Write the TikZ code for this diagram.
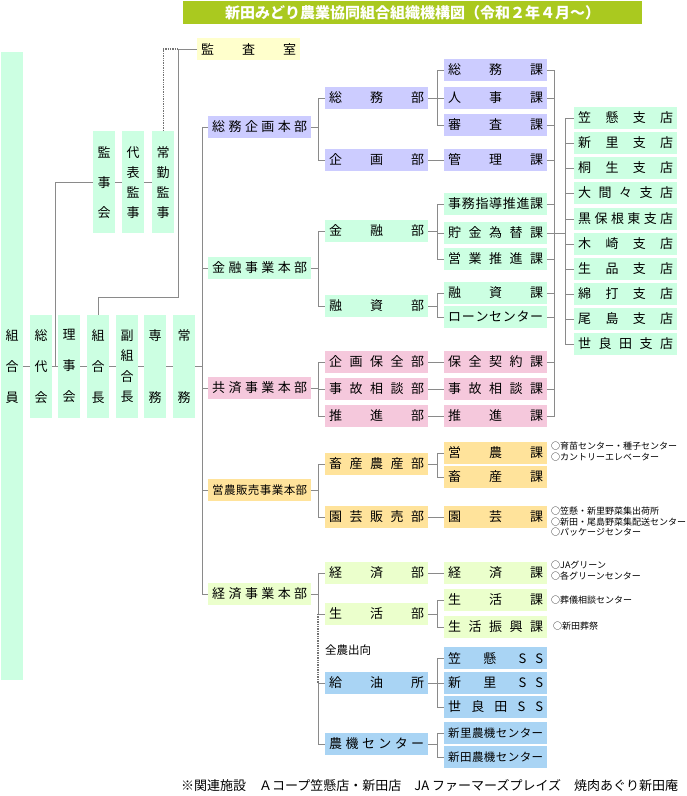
\documentclass[tikz,border=0pt]{standalone}
\usepackage{fontspec}
\setmainfont{Noto Sans CJK JP}
\usepackage{tikz}
\usetikzlibrary{calc}

\definecolor{mint}{HTML}{CCFFE2}
\definecolor{lav}{HTML}{CCCCFF}
\definecolor{pinkish}{HTML}{F5C8DC}
\definecolor{gold}{HTML}{FFE39B}
\definecolor{lime}{HTML}{EBFFCC}
\definecolor{sky}{HTML}{A9D4F4}
\definecolor{cream}{HTML}{FFFFCC}
\definecolor{titlegreen}{HTML}{AAC91F}
\definecolor{linegray}{HTML}{8A8A8A}

\newcommand{\spr}[1]{\makebox[95pt][s]{\spaceskip=0pt plus 1fil\relax #1}}

\tikzset{
  unit/.style={fill=#1, minimum width=103pt, minimum height=21.5pt, inner sep=0pt, anchor=north west, font=\fontsize{13}{13}\selectfont},
  tall/.style={fill=mint, minimum width=22pt, inner sep=0pt, anchor=north west, align=center, font=\fontsize{13}{#1}\selectfont},
  small/.style={font=\fontsize{11.5}{11.5}\selectfont},
  link/.style={draw=linegray, line width=0.9pt},
  dots/.style={draw=black!55, densely dotted, line width=1.4pt},
  trunk/.style={draw=black!28, line width=1.7pt},
  fork/.style={link, to path={-- ++(#1,0) |- (\tikztotarget)}},
  fork/.default=7,
  aside/.style={anchor=north west, inner sep=0pt, align=left, font=\fontsize{9}{10.8}\selectfont}
}

\begin{document}
\begin{tikzpicture}[x=1pt, y=-1pt]
\useasboundingbox (0,0) rectangle (687,796);

% title
\node[fill=titlegreen, minimum width=459pt, minimum height=23pt, inner sep=0pt, anchor=north west, text=white, font=\bfseries\fontsize{15}{15}\selectfont] (title) at (183,1) {新田みどり農業協同組合組織機構図（令和２年４月～）};

% members, board, officers
\node[tall=31, minimum height=628pt] (kumiai) at (1,52) {組\\合\\員};
\node[tall=31, minimum height=103pt] (sodai) at (30,314.5) {総\\代\\会};
\node[tall=31, minimum height=103pt] (riji) at (58,314.5) {理\\事\\会};
\node[tall=31, minimum height=103pt] (kumicho) at (87,314.5) {組\\合\\長};
\node[tall=20.5, minimum height=103pt] (fuku) at (116,314.5) {副\\組\\合\\長};
\node[tall=62, minimum height=103pt] (senmu) at (144,314.5) {専\\務};
\node[tall=62, minimum height=103pt] (jomu) at (173,314.5) {常\\務};

\node[tall=30, minimum height=102pt] (kanjikai) at (93,131) {監\\事\\会};
\node[tall=20, minimum height=102pt] (daihyo) at (122,131) {代\\表\\監\\事};
\node[tall=20, minimum height=102pt] (jokin) at (152,131) {常\\勤\\監\\事};
\node[unit=cream] (kansa) at (197,38) {\spr{監 査 室}};

% head offices
\node[unit=lav] (hqSomu) at (208,116) {\spr{総 務 企 画 本 部}};
\node[unit=mint] (hqKinyu) at (208,257) {\spr{金 融 事 業 本 部}};
\node[unit=pinkish] (hqKyosai) at (208,377) {\spr{共 済 事 業 本 部}};
\node[unit=gold, small] (hqEino) at (208,479) {\spr{営 農 販 売 事 業 本 部}};
\node[unit=lime] (hqKeizai) at (208,583) {\spr{経 済 事 業 本 部}};

% departments
\node[unit=lav] (bSomu) at (325,87) {\spr{総 務 部}};
\node[unit=lav] (bKikaku) at (325,149) {\spr{企 画 部}};
\node[unit=mint] (bKinyu) at (325,220) {\spr{金 融 部}};
\node[unit=mint] (bYushi) at (325,295) {\spr{融 資 部}};
\node[unit=pinkish] (bHozen) at (325,351) {\spr{企 画 保 全 部}};
\node[unit=pinkish] (bJiko) at (325,378) {\spr{事 故 相 談 部}};
\node[unit=pinkish] (bSuishin) at (325,405) {\spr{推 進 部}};
\node[unit=gold] (bChikusan) at (325,453) {\spr{畜 産 農 産 部}};
\node[unit=gold] (bEngei) at (325,506) {\spr{園 芸 販 売 部}};
\node[unit=lime] (bKeizai) at (325,562) {\spr{経 済 部}};
\node[unit=lime] (bSeikatsu) at (325,603) {\spr{生 活 部}};
\node[unit=sky] (bKyuyu) at (325,672) {\spr{給 油 所}};
\node[unit=sky] (bNoki) at (325,733) {\spr{農 機 セ ン タ ー}};

% sections
\node[unit=lav] (kSomu) at (444,59) {\spr{総 務 課}};
\node[unit=lav] (kJinji) at (444,87) {\spr{人 事 課}};
\node[unit=lav] (kShinsa) at (444,114) {\spr{審 査 課}};
\node[unit=lav] (kKanri) at (444,149) {\spr{管 理 課}};
\node[unit=mint] (kJimu) at (444,193) {\spr{事 務 指 導 推 進 課}};
\node[unit=mint] (kChokin) at (444,222) {\spr{貯 金 為 替 課}};
\node[unit=mint] (kEigyo) at (444,248) {\spr{営 業 推 進 課}};
\node[unit=mint] (kYushi) at (444,282) {\spr{融 資 課}};
\node[unit=mint] (kLoan) at (444,306) {\spr{ロ ー ン セ ン タ ー}};
\node[unit=pinkish] (kHozen) at (444,351) {\spr{保 全 契 約 課}};
\node[unit=pinkish] (kJiko) at (444,378) {\spr{事 故 相 談 課}};
\node[unit=pinkish] (kSuishin) at (444,405) {\spr{推 進 課}};
\node[unit=gold] (kEino) at (444,442) {\spr{営 農 課}};
\node[unit=gold] (kChikusan) at (444,466) {\spr{畜 産 課}};
\node[unit=gold] (kEngei) at (444,506) {\spr{園 芸 課}};
\node[unit=lime] (kKeizai) at (444,562) {\spr{経 済 課}};
\node[unit=lime] (kSeikatsu) at (444,589) {\spr{生 活 課}};
\node[unit=lime] (kShinko) at (444,616) {\spr{生 活 振 興 課}};
\node[unit=sky] (ssKasakake) at (444,647) {\spr{笠 懸 S\hspace{9pt}S}};
\node[unit=sky] (ssNissato) at (444,672) {\spr{新 里 S\hspace{9pt}S}};
\node[unit=sky] (ssSerada) at (444,696) {\spr{世 良 田 S S}};
\node[unit=sky, small] (nkNissato) at (444,722) {\spr{新 里 農 機 セ ン タ ー}};
\node[unit=sky, small] (nkNitta) at (444,746) {\spr{新 田 農 機 セ ン タ ー}};

% branches
\node[unit=mint] (stKasakake) at (574,107) {\spr{笠 懸 支 店}};
\node[unit=mint] (stNissato) at (574,132) {\spr{新 里 支 店}};
\node[unit=mint] (stKiryu) at (574,157) {\spr{桐 生 支 店}};
\node[unit=mint] (stOmama) at (574,182) {\spr{大 間 々 支 店}};
\node[unit=mint] (stKurohone) at (574,208) {\spr{黒 保 根 東 支 店}};
\node[unit=mint] (stKizaki) at (574,233) {\spr{木 崎 支 店}};
\node[unit=mint] (stIkushina) at (574,258) {\spr{生 品 支 店}};
\node[unit=mint] (stWatauchi) at (574,283) {\spr{綿 打 支 店}};
\node[unit=mint] (stOjima) at (574,308) {\spr{尾 島 支 店}};
\node[unit=mint] (stSerada) at (574,333) {\spr{世 良 田 支 店}};

% notes
\node[aside] (nEino) at (551,441.5) {○育苗センター・種子センター\\○カントリーエレベーター};
\node[aside] (nEngei) at (551,506.5) {○笠懸・新里野菜集出荷所\\○新田・尾島野菜集配送センター\\○パッケージセンター};
\node[aside] (nKeizai) at (551,561) {○JAグリーン\\○各グリーンセンター};
\node[aside] (nSeikatsu) at (551,596) {○葬儀相談センター};
\node[aside] (nShinko) at (553,622) {○新田葬祭};
\node[anchor=west, inner sep=0pt, font=\fontsize{11.5}{11.5}\selectfont] (zennoh) at (325,650) {全農出向};
\node[anchor=west, inner sep=0pt, font=\fontsize{13}{13}\selectfont] (kanren) at (181,786) {※関連施設　Ａコープ笠懸店・新田店　JA ファーマーズプレイズ　焼肉あぐり新田庵};

% connectors
\coordinate (spine) at ($(jomu.east)+(7,0)$);
\coordinate (kanhub) at ($(kansa.west)+(-19,0)$);
\coordinate (elbow) at (178,297);
\coordinate (sbus) at ($(bSeikatsu.west)+(-7,0)$);
\draw[trunk] (spine |- hqSomu.west) -- (spine |- hqKeizai.west);
\draw[link] (kumiai) -- (sodai) -- (riji) -- (kumicho) -- (fuku) -- (senmu) -- (jomu) -- (spine);
\draw[link] (kanjikai) -- (daihyo) -- (jokin);
\draw[link] (kanjikai.west) -| ($(sodai.east)!.5!(riji.west)$);
\draw[dots] (jokin.north) |- (kanhub);
\draw[link] (kansa.west) -- (kanhub) -- (elbow) -| (kumicho.north);
\path (spine) edge[fork=0] (hqSomu.west) edge[fork=0] (hqKinyu.west)
  edge[fork=0] (hqKyosai.west) edge[fork=0] (hqEino.west) edge[fork=0] (hqKeizai.west);

\path (hqSomu.east) edge[fork] (bSomu.west) edge[fork] (bKikaku.west);
\path (hqKinyu.east) edge[fork] (bKinyu.west) edge[fork] (bYushi.west);
\path (hqKyosai.east) edge[fork] (bHozen.west) edge[fork] (bJiko.west) edge[fork] (bSuishin.west);
\path (hqEino.east) edge[fork] (bChikusan.west) edge[fork] (bEngei.west);
\path (hqKeizai.east) edge[fork] (bKeizai.west) edge[fork] (bSeikatsu.west);
\draw[dots] (sbus) -- (sbus |- bKyuyu.west);
\draw[link] (bKyuyu.west) -- ++(-7,0) |- (bNoki.west);

\path (bSomu.east) edge[fork=9] (kSomu.west) edge[fork=9] (kJinji.west) edge[fork=9] (kShinsa.west);
\path (bKikaku.east) edge[fork=9] (kKanri.west);
\path (bKinyu.east) edge[fork=9] (kJimu.west) edge[fork=9] (kChokin.west) edge[fork=9] (kEigyo.west);
\path (bYushi.east) edge[fork=9] (kYushi.west) edge[fork=9] (kLoan.west);
\path (bHozen.east) edge[fork=9] (kHozen.west);
\path (bJiko.east) edge[fork=9] (kJiko.west);
\path (bSuishin.east) edge[fork=9] (kSuishin.west);
\path (bChikusan.east) edge[fork=9] (kEino.west) edge[fork=9] (kChikusan.west);
\path (bEngei.east) edge[fork=9] (kEngei.west);
\path (bKeizai.east) edge[fork=9] (kKeizai.west);
\path (bSeikatsu.east) edge[fork=9] (kSeikatsu.west) edge[fork=9] (kShinko.west);
\path (bKyuyu.east) edge[fork=9] (ssKasakake.west) edge[fork=9] (ssNissato.west) edge[fork=9] (ssSerada.west);
\path (bNoki.east) edge[fork=9] (nkNissato.west) edge[fork=9] (nkNitta.west);

\path (kSomu.east) edge[fork] (kSuishin.east);
\draw[link] (kJinji.east) -- ++(7,0) (kShinsa.east) -- ++(7,0) (kKanri.east) -- ++(7,0)
  (kJimu.east) -- ++(7,0) (kEigyo.east) -- ++(7,0) (kYushi.east) -- ++(7,0)
  (kLoan.east) -- ++(7,0) (kHozen.east) -- ++(7,0) (kJiko.east) -- ++(7,0);
\path (kChokin.east) edge[fork=18] (stKasakake.west) edge[fork=18] (stNissato.west) edge[fork=18] (stKiryu.west)
  edge[fork=18] (stOmama.west) edge[fork=18] (stKurohone.west) edge[fork=18] (stKizaki.west)
  edge[fork=18] (stIkushina.west) edge[fork=18] (stWatauchi.west) edge[fork=18] (stOjima.west)
  edge[fork=18] (stSerada.west);
\end{tikzpicture}
\end{document}
